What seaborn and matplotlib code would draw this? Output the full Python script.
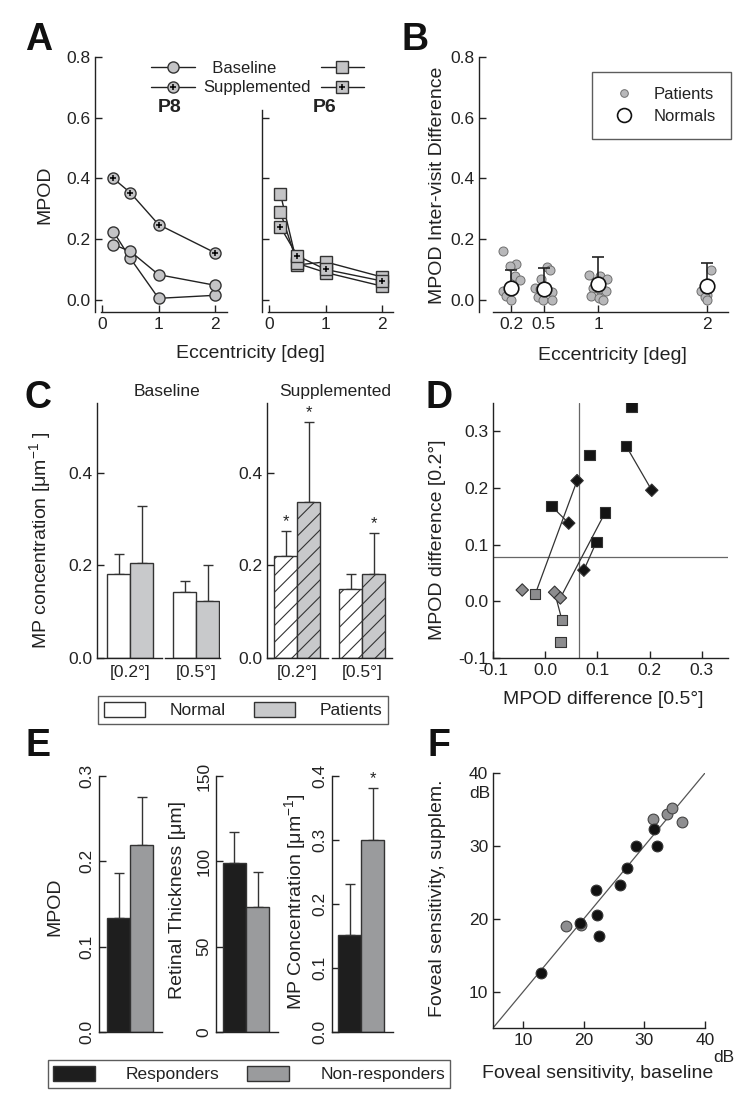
import numpy as np
import pandas as pd
import matplotlib.pyplot as plt
import seaborn as sns
from matplotlib.lines import Line2D
from matplotlib.patches import Patch
from matplotlib.legend_handler import HandlerTuple

# ---- A: MPOD profiles of two patients
ecc = [0.2, 0.5, 1, 2]
p8_base_1 = [0.225, 0.137, 0.005, 0.015]
p8_base_2 = [0.182, 0.160, 0.083, 0.048]
p8_supp = [0.400, 0.353, 0.248, 0.155]
p6_base_1 = [0.350, 0.115, 0.125, 0.075]
p6_base_2 = [0.290, 0.120, 0.090, 0.045]
p6_supp = [0.240, 0.145, 0.100, 0.062]

# ---- B: inter-visit differences
b_ecc = [0.2, 0.5, 1, 2]
b_pat_02 = [0.160, 0.118, 0.110, 0.080, 0.065, 0.042, 0.038, 0.030, 0.012, 0.000]
b_pat_05 = [0.108, 0.100, 0.070, 0.040, 0.035, 0.025, 0.010, 0.000, 0.000]
b_pat_1 = [0.082, 0.078, 0.068, 0.040, 0.035, 0.030, 0.012, 0.005, 0.000]
b_pat_2 = [0.100, 0.035, 0.030, 0.015, 0.010, 0.000]
b_norm_mean = [0.040, 0.037, 0.052, 0.045]
b_norm_sd = [0.060, 0.068, 0.088, 0.078]

# ---- C: MP concentration, normals vs patients
c_groups = ['Normal', 'Patients']
c_ecc_labels = ['[0.2°]', '[0.5°]']
c_base_mean = [[0.182, 0.205], [0.142, 0.123]]
c_base_sd = [[0.042, 0.122], [0.024, 0.078]]
c_supp_mean = [[0.220, 0.337], [0.149, 0.181]]
c_supp_sd = [[0.054, 0.173], [0.032, 0.089]]
c_supp_star = [[True, True], [False, True]]

# ---- D: MPOD change at 0.5 deg vs 0.2 deg
d_x = [0.165, 0.155, 0.085, 0.012, 0.115, 0.098,
       0.061, 0.045, 0.204, 0.074,
       -0.044, 0.018, 0.029,
       -0.019, 0.032, 0.029]
d_y = [0.343, 0.274, 0.258, 0.168, 0.157, 0.105,
       0.213, 0.138, 0.196, 0.055,
       0.020, 0.016, 0.006,
       0.013, -0.033, -0.072]
d_group = ['resp'] * 10 + ['non'] * 6
d_shape = ['sq'] * 6 + ['dm'] * 4 + ['dm'] * 3 + ['sq'] * 3
d_links = [(13, 6), (3, 7), (1, 8), (4, 12), (5, 9), (11, 14)]
d_cut_x = 0.065
d_cut_y = 0.078

# ---- E: responders vs non-responders
e_groups = ['Responders', 'Non-responders']
e_mpod_mean = [0.134, 0.219]
e_mpod_sd = [0.052, 0.056]
e_thick_mean = [99, 73]
e_thick_sd = [18, 21]
e_conc_mean = [0.151, 0.300]
e_conc_sd = [0.080, 0.081]

# ---- F: foveal sensitivity
f_base_resp = [13.0, 19.3, 22.1, 22.5, 22.0, 25.9, 27.2, 28.6, 31.6, 32.1]
f_supp_resp = [12.5, 19.4, 20.5, 17.6, 24.0, 24.6, 26.9, 30.0, 32.3, 30.0]
f_base_non = [17.0, 19.6, 31.4, 33.8, 34.5, 36.2]
f_supp_non = [19.0, 19.2, 33.7, 34.4, 35.2, 33.3]
f_lim = (5, 40)

sns.set_theme(style='ticks', rc={
    'axes.linewidth': 1.0, 'axes.edgecolor': '#222222',
    'xtick.direction': 'in', 'ytick.direction': 'in',
    'xtick.major.size': 5, 'ytick.major.size': 5,
    'xtick.major.width': 1.0, 'ytick.major.width': 1.0,
    'xtick.color': '#222222', 'ytick.color': '#222222',
    'xtick.labelsize': 12.5, 'ytick.labelsize': 12.5,
    'axes.labelsize': 14, 'text.color': '#222222', 'axes.labelcolor': '#222222',
    'hatch.linewidth': 0.8,
    'mathtext.fontset': 'custom', 'mathtext.rm': 'Liberation Sans',
    'mathtext.it': 'Liberation Sans:italic', 'mathtext.bf': 'Liberation Sans:bold'})
plt.rcParams['font.family'] = ['Liberation Sans', 'DejaVu Sans']

W, H = 750, 1113
fig = plt.figure(figsize=(W / 100, H / 100), dpi=100)


def add_ax(l, t, r, b):
    return fig.add_axes([l / W, 1 - b / H, (r - l) / W, (b - t) / H])


def ftext(px, py, s, **kw):
    kw.setdefault('ha', 'center')
    kw.setdefault('va', 'center')
    fig.text(px / W, 1 - py / H, s, **kw)


def ylab(ax, s, px, py):
    ax.set_ylabel(s)
    ax.yaxis.set_label_coords(px / W, 1 - py / H, transform=fig.transFigure)
    ax.yaxis.label.set_va('center')


def xlab(ax, s, px, py):
    ax.set_xlabel(s)
    ax.xaxis.set_label_coords(px / W, 1 - py / H, transform=fig.transFigure)
    ax.xaxis.label.set_va('center')


# panel letters
for letter, (px, py) in zip('ABCDEF', [(25, 22), (402, 22), (25, 380), (425, 380), (25, 728), (427, 728)]):
    fig.text(px / W, 1 - py / H, letter, fontsize=27, fontweight='bold', ha='left', va='top', color='#111111')

# ================= A =================
gray_a = '#c4c4c6'
line_kw = dict(color='#222222', lw=1, markersize=8, markerfacecolor=gray_a,
               markeredgecolor='#333333', markeredgewidth=1)

ax_p8 = add_ax(101, 57, 227, 312)
for vals in (p8_base_1, p8_base_2, p8_supp):
    sns.lineplot(x=ecc, y=vals, ax=ax_p8, marker='o', **line_kw)
sns.scatterplot(x=ecc, y=p8_supp, marker='+', color='black', s=16, linewidth=1.1, ax=ax_p8, zorder=5)
ax_p8.set_xlim(-0.018, 2.21)
ax_p8.set_ylim(-0.04, 0.8)
ax_p8.set_yticks([0, 0.2, 0.4, 0.6, 0.8], ['0.0', '0.2', '0.4', '0.6', '0.8'])
ax_p8.set_xticks([0, 1, 2], ['0', '1', '2'])
sns.despine(ax=ax_p8)
ax_p8.spines['left'].set_position(('outward', 4))
ylab(ax_p8, 'MPOD', 45, 195)
xlab(ax_p8, 'Eccentricity [deg]', 250, 354)

ax_p6 = add_ax(268, 110, 393, 312)
for vals in (p6_base_1, p6_base_2, p6_supp):
    sns.lineplot(x=ecc, y=vals, ax=ax_p6, marker='s', **line_kw)
sns.scatterplot(x=ecc, y=p6_supp, marker='+', color='black', s=16, linewidth=1.1, ax=ax_p6, zorder=5)
ax_p6.set_xlim(-0.018, 2.19)
ax_p6.set_ylim(-0.04, 0.625)
ax_p6.set_yticks([0, 0.2, 0.4, 0.6], [])
ax_p6.set_xticks([0, 1, 2], ['0', '1', '2'])
sns.despine(ax=ax_p6)
ax_p6.spines['left'].set_position(('outward', 4))

ftext(170, 107, 'P8', fontsize=14, fontweight='bold')
ftext(325, 107, 'P6', fontsize=14, fontweight='bold')

circ = Line2D([], [], marker='o', **line_kw)
sq = Line2D([], [], marker='s', **line_kw)
plus = Line2D([], [], ls='', marker='+', color='black', markersize=4.5, markeredgewidth=1.1)
fig.legend([circ, (circ, plus), sq, (sq, plus)], ['  Baseline', 'Supplemented', '', ''],
           handler_map={tuple: HandlerTuple(ndivide=1, pad=0)}, ncol=2, frameon=False,
           loc='upper left', bbox_to_anchor=(143 / W, 1 - 53 / H), fontsize=12,
           handlelength=2.6, handletextpad=0.5, columnspacing=0.6, labelspacing=0.25,
           borderpad=0)

# ================= B =================
ax_b = add_ax(493, 57, 728, 312)
b_pats = [b_pat_02, b_pat_05, b_pat_1, b_pat_2]
b_df = pd.DataFrame({'ecc': np.repeat(b_ecc, [len(v) for v in b_pats]),
                     'diff': np.concatenate(b_pats)})
np.random.seed(7)
sns.stripplot(data=b_df, x='ecc', y='diff', native_scale=True, jitter=0.3, size=6.5,
              color='#b8b8ba', edgecolor='#6e6e6e', linewidth=0.7, ax=ax_b, zorder=2)
ax_b.errorbar(b_ecc, b_norm_mean, yerr=[np.zeros(len(b_ecc)), b_norm_sd], fmt='none',
              ecolor='#222222', elinewidth=1.2, capsize=4.5, capthick=1.2, zorder=3)
sns.scatterplot(x=b_ecc, y=b_norm_mean, s=110, color='white', edgecolor='#111111',
                linewidth=1.2, ax=ax_b, zorder=5)
ax_b.set_xlim(0.035, 2.19)
ax_b.set_ylim(-0.04, 0.8)
ax_b.set_xticks(b_ecc, ['0.2', '0.5', '1', '2'])
ax_b.set_yticks([0, 0.2, 0.4, 0.6, 0.8], ['0.0', '0.2', '0.4', '0.6', '0.8'])
sns.despine(ax=ax_b)
ax_b.spines['left'].set_position(('outward', 10))
ylab(ax_b, 'MPOD Inter-visit Difference', 438, 185)
xlab(ax_b, 'Eccentricity [deg]', 612, 355)
b_handles = [Line2D([], [], ls='', marker='o', markersize=5.5, markerfacecolor='#b8b8ba',
                    markeredgecolor='#6e6e6e', markeredgewidth=0.7),
             Line2D([], [], ls='', marker='o', markersize=10, markerfacecolor='white',
                    markeredgecolor='#111111', markeredgewidth=1.2)]
leg_b = fig.legend(b_handles, ['Patients', 'Normals'], loc='upper left',
                   bbox_to_anchor=(584 / W, 1 - 64 / H), fontsize=12, fancybox=False,
                   edgecolor='#333333', borderpad=0.9, handletextpad=0.8, labelspacing=0.4)
leg_b.get_frame().set_linewidth(1.0)


# ================= bar helpers =================
def bar_pair(box, bar_left, labels, means, sds, colors, ylim, spine=True,
             hatch=None, stars=None, tick_label=None):
    ax = add_ax(*box)
    df = pd.DataFrame({'grp': labels, 'val': means})
    sns.barplot(data=df, x='grp', y='val', hue='grp', palette=colors, width=1.0,
                edgecolor='#333333', linewidth=1, legend=False, ax=ax, zorder=2)
    if hatch:
        for p in ax.patches:
            p.set_hatch(hatch)
    ax.errorbar(range(len(means)), means, yerr=[np.zeros(len(means)), sds], fmt='none',
                ecolor='#333333', elinewidth=1, capsize=3.5, capthick=1, zorder=1)
    if stars:
        for i, flag in enumerate(stars):
            if flag:
                ax.text(i, means[i] + sds[i] + 0.004 * ylim[1] / 0.55, '*', ha='center',
                        va='bottom', fontsize=12)
    bw = 23.0
    ax.set_xlim(-0.5 - (bar_left - box[0]) / bw, -0.5 + (box[2] - bar_left) / bw)
    ax.set_ylim(*ylim)
    ax.set_xlabel('')
    ax.set_ylabel('')
    if tick_label:
        ax.set_xticks([0.5], [tick_label])
        ax.tick_params(axis='x', length=0, pad=5)
    else:
        ax.set_xticks([])
    if spine:
        sns.despine(ax=ax)
    else:
        sns.despine(ax=ax, left=True)
        ax.set_yticks([])
    return ax


# ================= C =================
c_colors = {'Normal': 'white', 'Patients': '#c8c9cb'}
c_boxes = [[(97, 403, 162, 658), 107], [(165, 403, 220, 658), 173]]
s_boxes = [[(267, 403, 328, 658), 274], [(332, 403, 392, 658), 339]]
c_axes = []
for k in range(2):
    c_axes.append(bar_pair(c_boxes[k][0], c_boxes[k][1], c_groups, c_base_mean[k], c_base_sd[k],
                           c_colors, (0, 0.55), spine=(k == 0), tick_label=c_ecc_labels[k]))
for k in range(2):
    c_axes.append(bar_pair(s_boxes[k][0], s_boxes[k][1], c_groups, c_supp_mean[k], c_supp_sd[k],
                           c_colors, (0, 0.55), spine=(k == 0), hatch='//',
                           stars=c_supp_star[k], tick_label=c_ecc_labels[k]))
for ax in (c_axes[0], c_axes[2]):
    ax.set_yticks([0, 0.2, 0.4], ['0.0', '0.2', '0.4'])
ylab(c_axes[0], 'MP concentration [μm$^{-1}$ ]', 40, 540)
ftext(167, 392, 'Baseline', fontsize=12.5)
ftext(335, 392, 'Supplemented', fontsize=12.5)
c_handles = [Patch(facecolor=c_colors[g], edgecolor='#333333', linewidth=1) for g in c_groups]
leg_c = fig.legend(c_handles, c_groups, loc='center', bbox_to_anchor=(243 / W, 1 - 710 / H),
                   ncol=2, fontsize=12.5, fancybox=False, edgecolor='#333333',
                   handlelength=2.4, handleheight=1.0, columnspacing=1.6, borderpad=0.3,
                   handletextpad=1.4)
leg_c.get_frame().set_linewidth(1.0)

# ================= D =================
ax_d = add_ax(493, 403, 728, 658)
d_df = pd.DataFrame({'x': d_x, 'y': d_y, 'group': d_group, 'shape': d_shape})
for i, j in d_links:
    ax_d.plot([d_x[i], d_x[j]], [d_y[i], d_y[j]], color='#333333', lw=0.9, zorder=2)
ax_d.axvline(d_cut_x, color='#666666', lw=0.9, zorder=1)
ax_d.axhline(d_cut_y, color='#666666', lw=0.9, zorder=1)
d_pal = {'resp': '#141414', 'non': '#8c8c8e'}
for shape, mk, sz in [('sq', 's', 55), ('dm', 'D', 40)]:
    sub = d_df[d_df['shape'] == shape]
    sns.scatterplot(data=sub, x='x', y='y', hue='group', palette=d_pal, marker=mk, s=sz,
                    edgecolor='#333333', linewidth=0.8, legend=False, ax=ax_d, zorder=3)
ax_d.set_xlim(-0.1, 0.35)
ax_d.set_ylim(-0.1, 0.35)
d_ticks = [-0.1, 0.0, 0.1, 0.2, 0.3]
d_tlabels = ['-0.1', '0.0', '0.1', '0.2', '0.3']
ax_d.set_xticks(d_ticks, d_tlabels)
ax_d.set_yticks(d_ticks, d_tlabels)
sns.despine(ax=ax_d)
ylab(ax_d, 'MPOD difference [0.2°]', 437, 540)
xlab(ax_d, 'MPOD difference [0.5°]', 603, 700)

# ================= E =================
e_colors = {'Responders': '#1e1e1e', 'Non-responders': '#9a9b9d'}
ax_e1 = bar_pair((99, 776, 162, 1032), 107, e_groups, e_mpod_mean, e_mpod_sd, e_colors, (0, 0.3))
ax_e2 = bar_pair((216, 776, 278, 1032), 223, e_groups, e_thick_mean, e_thick_sd, e_colors, (0, 150))
ax_e3 = bar_pair((332, 776, 393, 1032), 338, e_groups, e_conc_mean, e_conc_sd, e_colors, (0, 0.4),
                 stars=[False, True])
ax_e1.set_yticks([0, 0.1, 0.2, 0.3])
ax_e1.set_yticklabels(['0.0', '0.1', '0.2', '0.3'], rotation=90, va='center')
ax_e2.set_yticks([0, 50, 100, 150])
ax_e2.set_yticklabels(['0', '50', '100', '150'], rotation=90, va='center')
ax_e3.set_yticks([0, 0.1, 0.2, 0.3, 0.4])
ax_e3.set_yticklabels(['0.0', '0.1', '0.2', '0.3', '0.4'], rotation=90, va='center')
ylab(ax_e1, 'MPOD', 55, 907)
ylab(ax_e2, 'Retinal Thickness [μm]', 178, 900)
ylab(ax_e3, 'MP Concentration [μm$^{-1}$]', 295, 902)
e_handles = [Patch(facecolor=e_colors[g], edgecolor='#333333', linewidth=1) for g in e_groups]
leg_e = fig.legend(e_handles, e_groups, loc='center', bbox_to_anchor=(249 / W, 1 - 1074 / H),
                   ncol=2, fontsize=12.5, fancybox=False, edgecolor='#333333',
                   handlelength=2.4, handleheight=1.0, columnspacing=1.6, borderpad=0.3,
                   handletextpad=1.8)
leg_e.get_frame().set_linewidth(1.0)

# ================= F =================
ax_f = add_ax(493, 773, 705, 1028)
ax_f.axline((f_lim[0], f_lim[0]), slope=1, color='#555555', lw=0.9, zorder=1)
sns.scatterplot(x=f_base_non, y=f_supp_non, s=60, color='#8e8e90', edgecolor='#444444',
                linewidth=0.8, ax=ax_f, zorder=2)
sns.scatterplot(x=f_base_resp, y=f_supp_resp, s=60, color='#111111', edgecolor='#333333',
                linewidth=0.8, ax=ax_f, zorder=3)
ax_f.set_xlim(*f_lim)
ax_f.set_ylim(*f_lim)
ax_f.set_xticks([10, 20, 30, 40], ['10', '20', '30', '40'])
ax_f.set_yticks([10, 20, 30, 40], ['10', '20', '30', '40'])
sns.despine(ax=ax_f)
ylab(ax_f, 'Foveal sensitivity, supplem.', 438, 898)
xlab(ax_f, 'Foveal sensitivity, baseline', 598, 1073)
ftext(480, 793, 'dB', fontsize=12.5)
ftext(724, 1058, 'dB', fontsize=12.5)

fig.savefig('out.png', dpi=100)
